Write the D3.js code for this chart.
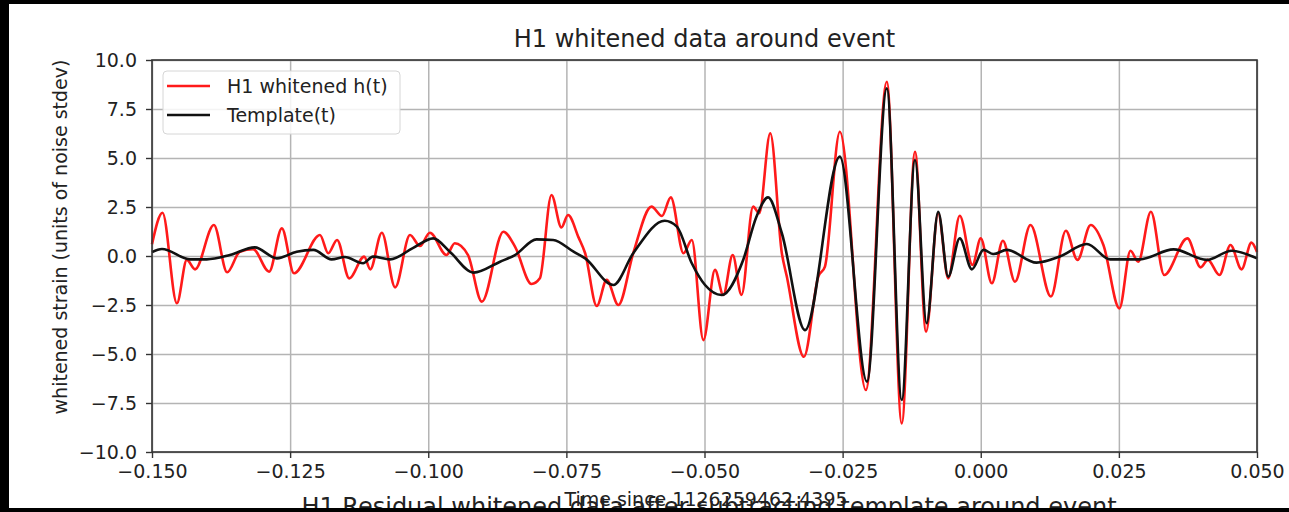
<!DOCTYPE html>
<html>
<head>
<meta charset="utf-8">
<script src="https://cdn.jsdelivr.net/npm/d3@7"></script>
<style>
  body { margin: 0; background: #fff; }
  svg text { font-family: "DejaVu Sans", sans-serif; fill: #222; }
</style>
</head>
<body>
<div id="area"></div>
<script>
// values (turning points of each curve)
let dataTimes = [
  -0.1500, -0.1481, -0.1455, -0.1437, -0.1422, -0.1388, -0.1364, -0.1341, -0.1317, -0.1288,
  -0.1265, -0.1243, -0.1196, -0.1181, -0.1165, -0.1143, -0.1116, -0.1105, -0.1084, -0.1060,
  -0.1033, -0.1015, -0.0997, -0.0967, -0.0952, -0.0928, -0.0903, -0.0864, -0.0843, -0.0813,
  -0.0798, -0.0777, -0.0759, -0.0747, -0.0728, -0.0716, -0.0695, -0.0677, -0.0656, -0.0629,
  -0.0596, -0.0577, -0.0561, -0.0538, -0.0523, -0.0502, -0.0481, -0.0466, -0.0449, -0.0433,
  -0.0412, -0.0401, -0.0381, -0.0360, -0.0351, -0.0320, -0.0294, -0.0282, -0.0255, -0.0208,
  -0.0170, -0.0143, -0.0119, -0.0099, -0.0077, -0.0059, -0.0038, -0.0015,  0.0000,  0.0020,
   0.0040,  0.0062,  0.0090,  0.0127,  0.0154,  0.0175,  0.0199,  0.0222,  0.0251,  0.0271,
   0.0285,  0.0308,  0.0332,  0.0374,  0.0398,  0.0411,  0.0432,  0.0452,  0.0472,  0.0490,
   0.0500
];
let dataValues = [
   0.60,  2.21, -2.41, -0.20, -0.68,  1.58, -0.83,  0.22,  0.35, -0.80,
   1.41, -0.88,  1.07,  0.14,  0.82, -1.14, -0.03, -0.68,  1.19, -1.60,
   1.07,  0.51,  1.19,  0.05,  0.65,  0.05, -2.33,  1.24,  0.48, -1.43,
  -1.14,  3.11,  1.46,  2.09,  0.95,  0.14, -2.55, -1.22, -2.50,  0.14,
   2.52,  2.04,  2.99,  0.14,  0.82, -4.29, -0.71, -1.99,  0.05, -1.99,
   2.52,  2.18,  6.26,  0.14, -1.05, -5.14, -1.05, -0.54,  6.34, -6.84,
   8.89, -8.54,  5.32, -3.86,  2.18, -1.14,  2.05, -0.46,  0.90, -1.39,
   0.78, -1.31,  1.58, -2.07,  1.29, -0.20,  1.58,  0.56, -2.67,  0.27,
  -0.29,  2.26, -0.97,  0.90, -0.58, -0.20, -0.97,  0.56, -0.68,  0.68,
   0.20
];

let templateTimes = [
  -0.1500, -0.1482, -0.1431, -0.1401, -0.1359, -0.1314, -0.1274, -0.1238, -0.1208, -0.1175,
  -0.1151, -0.1118, -0.1100, -0.1069, -0.1028, -0.0991, -0.0961, -0.0918, -0.0870, -0.0843,
  -0.0804, -0.0774, -0.0737, -0.0716, -0.0665, -0.0629, -0.0572, -0.0550, -0.0523, -0.0499,
  -0.0469, -0.0430, -0.0406, -0.0385, -0.0360, -0.0318, -0.0255, -0.0206, -0.0170, -0.0143,
  -0.0119, -0.0098, -0.0077, -0.0059, -0.0038, -0.0016,  0.0005,  0.0023,  0.0047,  0.0101,
   0.0143,  0.0192,  0.0234,  0.0288,  0.0349,  0.0409,  0.0454,  0.0500
];
let templateValues = [
   0.20,  0.36, -0.17, -0.17,  0.05,  0.44, -0.12,  0.22,  0.31, -0.17,
  -0.05, -0.37, -0.03, -0.17,  0.40,  0.90,  0.22, -0.85, -0.29,  0.05,
   0.85,  0.82,  0.22, -0.12, -1.48,  0.14,  1.80,  1.50, -0.37, -1.48,
  -1.99, -0.20,  2.00,  2.99,  1.16, -3.78,  5.07, -6.41,  8.55, -7.35,
   4.90, -3.43,  2.26, -1.05,  0.90, -0.68,  0.31,  0.10,  0.31, -0.34,
  -0.03,  0.61, -0.17, -0.17,  0.34, -0.20,  0.27, -0.12
];

let xTicks = [-0.150, -0.125, -0.100, -0.075, -0.050, -0.025, 0.000, 0.025, 0.050];
let yTicks = [-10.0, -7.5, -5.0, -2.5, 0.0, 2.5, 5.0, 7.5, 10.0];

let seriesNames  = ["H1 whitened h(t)", "Template(t)"];
let seriesColors = ["#ff1a1a", "#111111"];

let margin = {
  top:    60,
  right:  32,
  bottom: 60,
  left:   152
};

let exteriorWidth  = 1289,
    exteriorHeight = 512;

let interiorWidth  = exteriorWidth - margin.left - margin.right,
    interiorHeight = exteriorHeight - margin.top - margin.bottom;

let root =
  d3.select("#area")
    .append("svg")
      .attr("width", exteriorWidth)
      .attr("height", exteriorHeight);

let svg =
  root.append("g")
      .attr("transform", translate(margin.left, margin.top));

let x =
  d3.scaleLinear()
    .domain([-0.15, 0.05])
    .range([0, interiorWidth]);

let y =
  d3.scaleLinear()
    .domain([-10, 10])
    .range([interiorHeight, 0]);

// grid
svg.append("g")
    .attr("class", "grid")
    .attr("transform", translate(0, interiorHeight))
    .call(d3.axisBottom(x).tickValues(xTicks).tickSize(-interiorHeight).tickFormat(""));

svg.append("g")
    .attr("class", "grid")
    .call(d3.axisLeft(y).tickValues(yTicks).tickSize(-interiorWidth).tickFormat(""));

svg.selectAll(".grid .domain").remove();
svg.selectAll(".grid line")
    .attr("stroke", "#b4b4b4")
    .attr("stroke-width", 1.5);

let line =
  d3.line()
    .x(function(d) { return x(d[0]); })
    .y(function(d) { return y(d[1]); })
    .curve(d3.curveMonotoneX);

let dataPoints     = dataTimes.map(function(t, i) { return [t, dataValues[i]]; });
let templatePoints = templateTimes.map(function(t, i) { return [t, templateValues[i]]; });

svg.append("path")
    .datum(dataPoints)
    .attr("fill", "none")
    .attr("stroke", seriesColors[0])
    .attr("stroke-width", 2.6)
    .attr("d", line);

svg.append("path")
    .datum(templatePoints)
    .attr("fill", "none")
    .attr("stroke", seriesColors[1])
    .attr("stroke-width", 2.6)
    .attr("d", line);

// frame
svg.append("rect")
    .attr("width", interiorWidth)
    .attr("height", interiorHeight)
    .attr("fill", "none")
    .attr("stroke", "#333")
    .attr("stroke-width", 1.6);

let xAxis =
  svg.append("g")
      .attr("transform", translate(0, interiorHeight))
      .call(d3.axisBottom(x).tickValues(xTicks).tickSize(6).tickPadding(7)
              .tickFormat(d3.format(".3f")));

let yAxis =
  svg.append("g")
      .call(d3.axisLeft(y).tickValues(yTicks).tickSize(6).tickPadding(9)
              .tickFormat(d3.format(".1f")));

[xAxis, yAxis].forEach(function(a) {
  a.select(".domain").remove();
  a.selectAll("line").attr("stroke", "#333").attr("stroke-width", 1.4);
  a.selectAll("text")
      .style("font-size", "19px")
      .attr("fill", "#222");
});

// legend
let legend =
  svg.append("g")
      .attr("transform", translate(11, 11));

legend.append("rect")
    .attr("width", 237)
    .attr("height", 63)
    .attr("rx", 4)
    .attr("fill", "#fff")
    .attr("fill-opacity", 0.85)
    .attr("stroke", "#d6d6d6");

seriesNames.forEach(function(name, i) {
  let row = legend.append("g").attr("transform", translate(0, 15 + i * 29));
  row.append("line")
      .attr("x1", 4).attr("x2", 47)
      .attr("stroke", seriesColors[i])
      .attr("stroke-width", 2.6);
  row.append("text")
      .attr("x", 64)
      .attr("dy", "0.35em")
      .style("font-size", "19px")
      .text(name);
});

// titles and labels
root.append("text")
    .attr("x", margin.left + interiorWidth / 2)
    .attr("y", 47)
    .attr("text-anchor", "middle")
    .style("font-size", "24px")
    .text("H1 whitened data around event");

root.append("text")
    .attr("transform", translate(60, 237) + " rotate(-90)")
    .attr("dy", "0.35em")
    .attr("text-anchor", "middle")
    .style("font-size", "19px")
    .text("whitened strain (units of noise stdev)");

root.append("text")
    .attr("x", 709)
    .attr("y", 515)
    .attr("text-anchor", "middle")
    .style("font-size", "24px")
    .text("H1 Residual whitened data after subtracting template around event");

root.append("text")
    .attr("x", 706)
    .attr("y", 506)
    .attr("text-anchor", "middle")
    .style("font-size", "19px")
    .text("Time since 1126259462.4395");

// dark border of the screenshot
root.append("rect").attr("x", 0).attr("y", 0).attr("width", exteriorWidth).attr("height", 4).attr("fill", "#000");
root.append("rect").attr("x", 0).attr("y", 0).attr("width", 9).attr("height", exteriorHeight).attr("fill", "#000");
root.append("rect").attr("x", 0).attr("y", 508).attr("width", exteriorWidth).attr("height", 4).attr("fill", "#000");

function translate(x, y=0) {
  return "translate({x}, {y})"
          .replace("{x}", x)
          .replace("{y}", y);
}
</script>
</body>
</html>
